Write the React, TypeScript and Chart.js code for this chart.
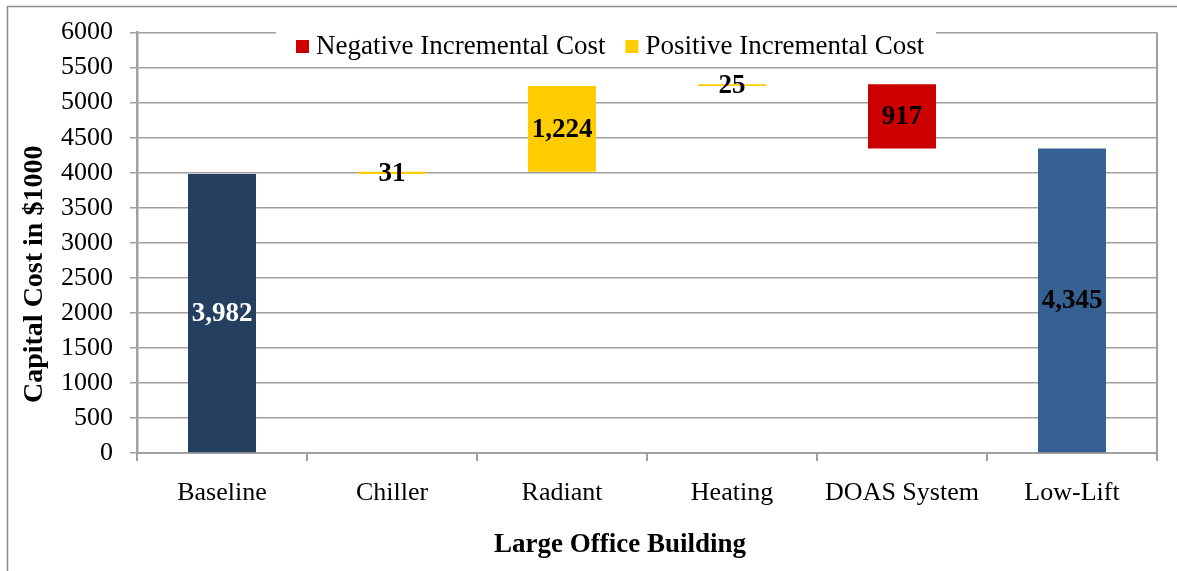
import { useEffect, useRef } from 'react';
import { Chart, registerables } from 'chart.js';

Chart.register(...registerables);

const categories = ['Baseline', 'Chiller', 'Radiant', 'Heating', 'DOAS System', 'Low-Lift'];
const totalValues: (number | null)[] = [3982, null, null, null, null, 4345];
const positiveRanges: ([number, number] | null)[] = [null, [3982, 4013], [4013, 5237], [5237, 5262], null, null];
const negativeRanges: ([number, number] | null)[] = [null, null, null, null, [4345, 5262], null];
const legendLabels = ['Negative Incremental Cost', 'Positive Incremental Cost'];
const yAxisTitle = 'Capital Cost in $1000';
const xAxisTitle = 'Large Office Building';

const SERIF = '"Liberation Serif", "Times New Roman", serif';
const GRID = '#a0a0a0';
const RED = '#cc0000';
const YELLOW = '#ffcc00';

const valueLabelPlugin = {
  id: 'valueLabels',
  afterDatasetsDraw(chart: any) {
    const ctx = chart.ctx;
    ctx.save();
    ctx.font = `bold 27px ${SERIF}`;
    ctx.textAlign = 'center';
    ctx.textBaseline = 'middle';
    chart.data.datasets.forEach((ds: any, di: number) => {
      const meta = chart.getDatasetMeta(di);
      meta.data.forEach((el: any, i: number) => {
        const raw = ds.data[i];
        if (raw == null) return;
        const v = Array.isArray(raw) ? Math.abs(raw[1] - raw[0]) : raw;
        const { x, y, base } = el.getProps(['x', 'y', 'base'], true);
        ctx.fillStyle = i === 0 ? '#ffffff' : '#000000';
        ctx.fillText(v.toLocaleString('en-US'), x, (y + base) / 2 + 1);
      });
    });
    ctx.restore();
  },
};

const framePlugin = {
  id: 'frameAndLegend',
  afterDraw(chart: any) {
    const ctx = chart.ctx;
    const { chartArea } = chart;
    ctx.save();
    // right border of plot
    ctx.strokeStyle = GRID;
    ctx.lineWidth = 2;
    ctx.beginPath();
    ctx.moveTo(chartArea.right, chartArea.top);
    ctx.lineTo(chartArea.right, chartArea.bottom + 8);
    ctx.stroke();
    // outer frame
    ctx.strokeStyle = '#8c8c8c';
    ctx.lineWidth = 1.5;
    ctx.beginPath();
    ctx.moveTo(7.5, chart.height);
    ctx.lineTo(7.5, 6.5);
    ctx.lineTo(chart.width, 6.5);
    ctx.stroke();
    // legend
    ctx.fillStyle = '#ffffff';
    ctx.fillRect(276, 24, 660, 34);
    ctx.font = `27px ${SERIF}`;
    ctx.textBaseline = 'middle';
    ctx.textAlign = 'left';
    const colors = [RED, YELLOW];
    let x = 296;
    legendLabels.forEach((label, i) => {
      ctx.fillStyle = colors[i];
      ctx.fillRect(x, 40, 13, 13);
      ctx.fillStyle = '#000000';
      ctx.fillText(label, x + 20, 47);
      x += 20 + ctx.measureText(label).width + 20;
    });
    ctx.restore();
  },
};

export default function App() {
  const ref = useRef<HTMLCanvasElement>(null);

  useEffect(() => {
    const chart = new Chart(ref.current as HTMLCanvasElement, {
      type: 'bar',
      data: {
        labels: categories,
        datasets: [
          {
            label: 'Total',
            data: totalValues as any,
            backgroundColor: ['#243f60', '#243f60', '#243f60', '#243f60', '#243f60', '#366092'],
            grouped: false,
            barPercentage: 0.4,
            categoryPercentage: 1,
          } as any,
          {
            label: legendLabels[1],
            data: positiveRanges as any,
            backgroundColor: YELLOW,
            grouped: false,
            barPercentage: 0.4,
            categoryPercentage: 1,
          } as any,
          {
            label: legendLabels[0],
            data: negativeRanges as any,
            backgroundColor: RED,
            grouped: false,
            barPercentage: 0.4,
            categoryPercentage: 1,
          } as any,
        ],
      },
      options: {
        animation: false,
        responsive: true,
        maintainAspectRatio: false,
        layout: { padding: { left: 0, top: 31, right: 20, bottom: 0 } },
        plugins: {
          legend: { display: false },
          tooltip: { enabled: false },
        },
        scales: {
          x: {
            grid: {
              offset: true,
              drawOnChartArea: false,
              drawTicks: true,
              tickLength: 8,
              color: GRID,
              lineWidth: 2,
            },
            border: { color: GRID, width: 2 },
            ticks: {
              font: { family: SERIF, size: 26 },
              color: '#000000',
              padding: 17,
              maxRotation: 0,
              autoSkip: false,
            },
            title: {
              display: true,
              text: xAxisTitle + '        ',
              font: { family: SERIF, size: 27, weight: 'bold' },
              color: '#000000',
              padding: { top: 0, bottom: 10 },
            },
            afterFit: (s: any) => {
              s.height = 571 - 453;
            },
          },
          y: {
            min: 0,
            max: 6000,
            ticks: {
              stepSize: 500,
              font: { family: SERIF, size: 26 },
              color: '#000000',
              padding: 17,
              callback: (v: any) => String(v),
            },
            grid: { color: GRID, lineWidth: 1.5, tickLength: 7 },
            border: { color: GRID, width: 2.5 },
            title: {
              display: true,
              text: yAxisTitle + '         ',
              font: { family: SERIF, size: 28, weight: 'bold' },
              color: '#000000',
              padding: { top: 18, bottom: 0 },
            },
            afterFit: (s: any) => {
              s.width = 137;
            },
          },
        },
      } as any,
      plugins: [valueLabelPlugin, framePlugin],
    });
    return () => chart.destroy();
  }, []);

  return (
    <div style={{ position: 'fixed', left: 0, top: 0, width: 1177, height: 571, background: '#ffffff' }}>
      <canvas ref={ref} />
    </div>
  );
}
